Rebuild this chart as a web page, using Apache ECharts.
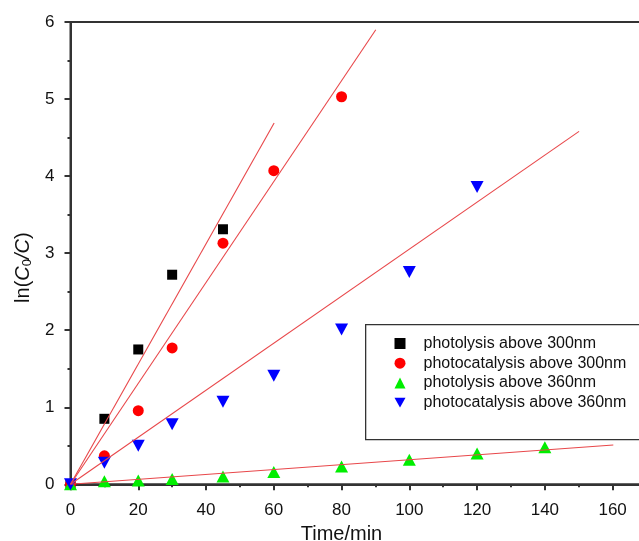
<!DOCTYPE html>
<html>
<head>
<meta charset="utf-8">
<script src="https://cdn.jsdelivr.net/npm/echarts@6/dist/echarts.min.js"></script>
<style>
  html, body { margin: 0; padding: 0; background: #fff; }
  #chart { width: 639px; height: 541px; }
</style>
</head>
<body>
<div id="chart"></div>
<script>
// Series labels
const seriesNames = [
  'photolysis above 300nm',
  'photocatalysis above 300nm',
  'photolysis above 360nm',
  'photocatalysis above 360nm'
];

// Measured ln(C0/C) against irradiation time (min)
const photolysis300Time = [0, 10, 20, 30, 45];
const photolysis300Val  = [0, 0.85, 1.75, 2.72, 3.31];

const photocat300Time = [0, 10, 20, 30, 45, 60, 80];
const photocat300Val  = [0, 0.37, 0.955, 1.77, 3.13, 4.07, 5.03];

const photolysis360Time = [0, 10, 20, 30, 45, 60, 80, 100, 120, 140];
const photolysis360Val  = [0, 0.04, 0.05, 0.07, 0.10, 0.16, 0.23, 0.32, 0.40, 0.48];

const photocat360Time = [0, 10, 20, 30, 45, 60, 80, 100, 120];
const photocat360Val  = [0, 0.28, 0.50, 0.78, 1.07, 1.41, 2.01, 2.755, 3.86];

// Linear first-order fits through the origin: end point of each fitted line
const fitEndTime = [60.1, 90.1, 160.2, 150.1];
const fitEndVal  = [4.69, 5.90, 0.51, 4.58];

// Axis ticks
const xMajorTicks = [0, 20, 40, 60, 80, 100, 120, 140, 160];
const xMinorTicks = [10, 30, 50, 70, 90, 110, 130, 150];

const FONT = '"Liberation Sans", Arial, Helvetica, sans-serif';
const AXIS_COLOR = '#333';
const FIT_COLOR = '#e8474a';
const DOWN_TRIANGLE = 'path://M0,0 L10,0 L5,9 Z';

function pairs(xs, ys) {
  return xs.map((x, i) => [x, ys[i]]);
}

const markerStyles = [
  { symbol: 'rect', symbolSize: 10, color: '#000000', rotate: 0, icon: 'rect' },
  { symbol: 'circle', symbolSize: 11, color: '#ff0000', rotate: 0, icon: 'circle' },
  { symbol: 'triangle', symbolSize: [13, 12], color: '#00ee00', rotate: 0, icon: 'triangle' },
  { symbol: 'triangle', symbolSize: [13, 12], color: '#0000ff', rotate: 180, icon: DOWN_TRIANGLE }
];

const measured = [
  pairs(photolysis300Time, photolysis300Val),
  pairs(photocat300Time, photocat300Val),
  pairs(photolysis360Time, photolysis360Val),
  pairs(photocat360Time, photocat360Val)
];

const scatterSeries = measured.map((d, i) => ({
  name: seriesNames[i],
  type: 'scatter',
  data: d,
  symbol: markerStyles[i].symbol,
  symbolSize: markerStyles[i].symbolSize,
  symbolRotate: markerStyles[i].rotate,
  itemStyle: { color: markerStyles[i].color, opacity: 1 },
  clip: false,
  z: 3
}));

const fitSeries = fitEndTime.map((t, i) => ({
  name: 'fit ' + (i + 1),
  type: 'line',
  data: [[0, 0], [t, fitEndVal[i]]],
  showSymbol: false,
  symbol: 'none',
  silent: true,
  lineStyle: { color: FIT_COLOR, width: 1.1 },
  z: 4
}));

const chart = echarts.init(document.getElementById('chart'), null, { renderer: 'canvas' });

chart.setOption({
  animation: false,
  backgroundColor: '#fff',
  grid: {
    left: 70.5,
    top: 22,
    width: 576,
    bottom: 56.7,
    outerBoundsMode: 'none',
    show: true,
    borderColor: AXIS_COLOR,
    borderWidth: 2,
    backgroundColor: 'transparent'
  },
  // frame of the key, running past the right edge of the page
  graphic: [{
    type: 'rect',
    left: 365,
    top: 324,
    shape: { width: 300, height: 115 },
    style: { fill: '#fff', stroke: AXIS_COLOR, lineWidth: 1.3 },
    z: 5,
    silent: true
  }],
  legend: {
    data: seriesNames.map((n, i) => ({ name: n, icon: markerStyles[i].icon })),
    orient: 'vertical',
    left: 365,
    top: 324,
    padding: [11.5, 10, 28, 29.5],
    itemGap: 3.7,
    itemWidth: 11,
    itemHeight: 11,
    borderWidth: 0,
    z: 6,
    textStyle: {
      fontFamily: FONT,
      fontSize: 16,
      color: '#111',
      lineHeight: 16,
      padding: [0, 0, 0, 13]
    }
  },
  xAxis: [
    {
      type: 'value',
      min: 0,
      max: 170,
      position: 'bottom',
      name: 'Time/min',
      nameLocation: 'middle',
      nameGap: 37,
      nameTextStyle: {
        fontFamily: FONT,
        fontSize: 20,
        color: '#111',
        padding: [0, 34, 0, 0]
      },
      axisLine: { show: true, lineStyle: { color: AXIS_COLOR, width: 2 } },
      axisTick: {
        show: true,
        customValues: xMajorTicks,
        length: 6,
        lineStyle: { color: AXIS_COLOR, width: 2 }
      },
      axisLabel: {
        customValues: xMajorTicks,
        fontFamily: FONT,
        fontSize: 17,
        color: '#111',
        margin: 18
      },
      splitLine: { show: false }
    },
    {
      type: 'value',
      min: 0,
      max: 170,
      position: 'bottom',
      axisLine: { show: false },
      axisTick: {
        show: true,
        customValues: xMinorTicks,
        length: 3,
        lineStyle: { color: AXIS_COLOR, width: 2 }
      },
      axisLabel: { show: false },
      splitLine: { show: false }
    }
  ],
  yAxis: {
    type: 'value',
    min: 0,
    max: 6,
    interval: 1,
    name: '{n|ln(}{i|C}{s|0}{i|/C}{n|)}',
    nameLocation: 'middle',
    nameGap: 37,
    nameTextStyle: {
      fontFamily: FONT,
      fontSize: 20,
      color: '#111',
      padding: [0, 29, 0, 0],
      rich: {
        n: { fontFamily: FONT, fontSize: 20, color: '#111' },
        i: { fontFamily: FONT, fontSize: 20, fontStyle: 'italic', color: '#111' },
        s: { fontFamily: FONT, fontSize: 13, color: '#111', verticalAlign: 'bottom', padding: [6, 0, 0, 0] }
      }
    },
    axisLine: { show: true, lineStyle: { color: AXIS_COLOR, width: 2 } },
    axisTick: { show: true, length: 6, lineStyle: { color: AXIS_COLOR, width: 2 } },
    minorTick: { show: true, splitNumber: 2, length: 3, lineStyle: { color: AXIS_COLOR, width: 2 } },
    axisLabel: {
      fontFamily: FONT,
      fontSize: 17,
      color: '#111',
      margin: 16
    },
    splitLine: { show: false },
    minorSplitLine: { show: false }
  },
  series: scatterSeries.concat(fitSeries)
});
</script>
</body>
</html>
